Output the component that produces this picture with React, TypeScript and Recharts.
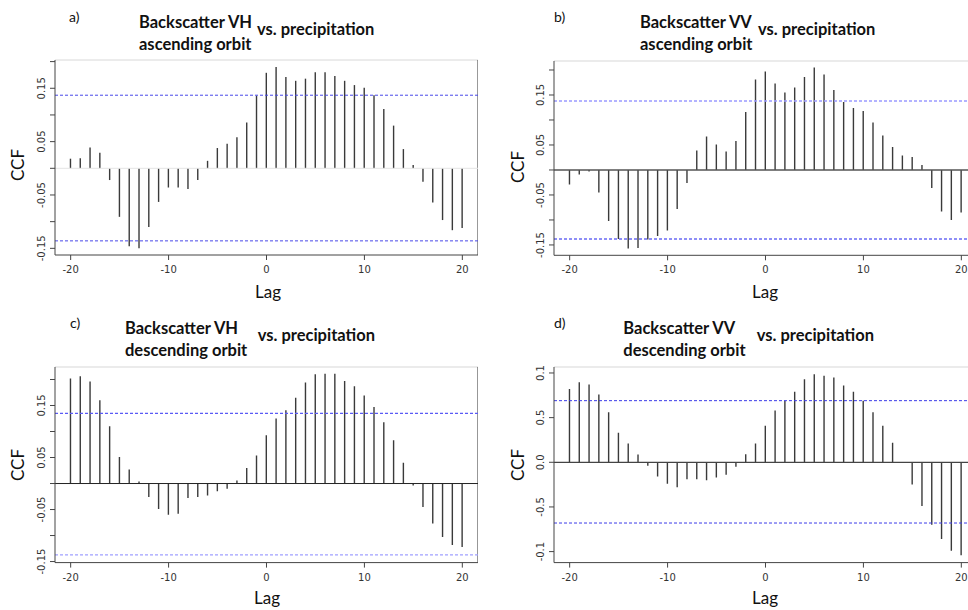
import React from "react";
import { BarChart, Bar, XAxis, YAxis, ReferenceLine } from "recharts";

const lags = [
  -20, -19, -18, -17, -16, -15, -14, -13, -12, -11, -10, -9, -8, -7, -6, -5, -4, -3, -2, -1,
  0, 1, 2, 3, 4, 5, 6, 7, 8, 9, 10, 11, 12, 13, 14, 15, 16, 17, 18, 19, 20,
];

const vhAscending = [
  0.018, 0.019, 0.039, 0.029, -0.022, -0.091, -0.146, -0.15, -0.11, -0.063, -0.036, -0.036, -0.039, -0.022,
  0.014, 0.038, 0.046, 0.058, 0.086, 0.136, 0.179, 0.19, 0.171, 0.164, 0.168, 0.18, 0.18, 0.173, 0.164,
  0.156, 0.151, 0.137, 0.111, 0.08, 0.036, 0.006, -0.025, -0.064, -0.097, -0.116, -0.112,
];

const vvAscending = [
  -0.029, -0.009, -0.003, -0.045, -0.102, -0.138, -0.157, -0.156, -0.139, -0.132, -0.121, -0.078, -0.026,
  0.039, 0.067, 0.051, 0.037, 0.058, 0.116, 0.181, 0.197, 0.173, 0.155, 0.165, 0.186, 0.205, 0.191, 0.16,
  0.136, 0.124, 0.118, 0.095, 0.069, 0.046, 0.029, 0.026, 0.01, -0.036, -0.083, -0.1, -0.085,
];

const vhDescending = [
  0.202, 0.206, 0.196, 0.16, 0.11, 0.051, 0.027, 0.004, -0.026, -0.049, -0.06, -0.058, -0.028, -0.026,
  -0.023, -0.015, -0.01, 0.006, 0.03, 0.054, 0.093, 0.125, 0.141, 0.165, 0.194, 0.21, 0.211, 0.211, 0.197,
  0.187, 0.169, 0.147, 0.118, 0.083, 0.04, -0.004, -0.045, -0.077, -0.103, -0.118, -0.122,
];

const vvDescending = [
  0.082, 0.0896, 0.087, 0.076, 0.056, 0.033, 0.021, 0.0086, -0.004, -0.016, -0.024, -0.028, -0.019, -0.019,
  -0.02, -0.017, -0.014, -0.005, 0.009, 0.021, 0.041, 0.058, 0.069, 0.079, 0.093, 0.0985, 0.097, 0.095,
  0.086, 0.079, 0.069, 0.056, 0.041, 0.022, 0, -0.025, -0.049, -0.07, -0.086, -0.099, -0.104,
];

const xTicks = [-20, -10, 0, 10, 20];
const ccfTicks = [-0.15, -0.1, -0.05, 0, 0.05, 0.1, 0.15, 0.2];
const ccfTickLabels = ["-0.15", "", "-0.05", "", "0.05", "", "0.15", ""];
const vvDescTicks = [-0.1, -0.05, 0, 0.05, 0.1];
const vvDescTickLabels = ["-0.1", "-0.5", "0.0", "0.5", "0.1"];

const FONT = "Lato, 'Open Sans', sans-serif";
const TICK_FONT = "'DejaVu Sans', sans-serif";

interface PanelProps {
  left: number;
  top: number;
  plotHeight: number;
  values: number[];
  domain: [number, number];
  ticks: number[];
  tickLabels: string[];
  conf: [number, number];
  confColors: [string, string];
  confWidth: number;
  zeroColor: string;
  zeroWidth: number;
}

const Y_W = 50;
const X_H = 30;
const PLOT_W = 423;
const PAD_T = 12;

function Panel(p: PanelProps) {
  const data = lags.map((lag, i) => ({ lag, ccf: p.values[i] }));
  const labelFor = (v: number) => {
    const i = p.ticks.findIndex((t) => Math.abs(t - v) < 1e-9);
    return i >= 0 ? p.tickLabels[i] : "";
  };
  const YTick = (props: any) => {
    const { x, y, payload } = props;
    return (
      <text
        x={x - 3}
        y={y}
        transform={`rotate(-90, ${x - 3}, ${y})`}
        textAnchor="middle"
        fontSize={10}
        fill="#333"
        fontFamily={TICK_FONT}
      >
        {labelFor(payload.value)}
      </text>
    );
  };
  return (
    <div style={{ position: "absolute", left: p.left - Y_W, top: p.top - PAD_T }}>
      <BarChart
        width={Y_W + PLOT_W}
        height={p.plotHeight + X_H + PAD_T}
        data={data}
        margin={{ top: PAD_T, right: 0, bottom: 0, left: 0 }}
        barCategoryGap={0}
      >
        <XAxis
          dataKey="lag"
          type="number"
          domain={[-21.6, 21.6]}
          ticks={xTicks}
          height={X_H}
          tickSize={5}
          tickMargin={6}
          allowDataOverflow
          stroke="#444"
          tick={{ fontSize: 10, fill: "#333", fontFamily: TICK_FONT }}
        />
        <YAxis
          type="number"
          domain={p.domain}
          ticks={p.ticks}
          width={Y_W}
          tickSize={5}
          tickMargin={2}
          allowDataOverflow
          stroke="#444"
          tick={YTick}
          interval={0}
        />
        <ReferenceLine y={p.domain[1]} stroke="#d8d8d8" strokeWidth={1} />
        <ReferenceLine x={21.6} stroke="#333" strokeWidth={1} />
        <ReferenceLine y={0} stroke={p.zeroColor} strokeWidth={p.zeroWidth} />
        <ReferenceLine y={p.conf[0]} stroke={p.confColors[0]} strokeDasharray="3 2" strokeWidth={p.confWidth} />
        <ReferenceLine y={p.conf[1]} stroke={p.confColors[1]} strokeDasharray="3 2" strokeWidth={p.confWidth} />
        <Bar dataKey="ccf" barSize={1.4} fill="#3a3a3a" isAnimationActive={false} />
      </BarChart>
    </div>
  );
}

interface TitleProps {
  x: number;
  y: number;
  letterX: number;
  letter: string;
  pol: string;
  orbit: string;
  vsX: number;
  vsDy: number;
  lineGap: number;
}

function Titles(t: TitleProps) {
  return (
    <g fontFamily={FONT} fill="#111">
      <text x={t.letterX} y={t.y - 6} fontSize={14}>{t.letter}</text>
      <text x={t.x} y={t.y} fontSize={16.5} fontWeight={700}>{`Backscatter ${t.pol}`}</text>
      <text x={t.x} y={t.y + t.lineGap} fontSize={16.5} fontWeight={700}>{t.orbit}</text>
      <text x={t.vsX} y={t.y + t.vsDy} fontSize={16.5} fontWeight={700}>vs. precipitation</text>
    </g>
  );
}

export default function App() {
  return (
    <div
      style={{
        position: "absolute",
        left: 0,
        top: 0,
        width: 968,
        height: 610,
        overflow: "hidden",
        background: "#fff",
      }}
    >
      <Panel
        left={55}
        top={60}
        plotHeight={195}
        values={vhAscending}
        domain={[-0.1625, 0.203]}
        ticks={ccfTicks}
        tickLabels={ccfTickLabels}
        conf={[0.137, -0.136]}
        confColors={["#4848e8", "#4848e8"]}
        confWidth={1}
        zeroColor="#e4e4e4"
        zeroWidth={1}
      />
      <Panel
        left={553.7}
        top={60.7}
        plotHeight={194.3}
        values={vvAscending}
        domain={[-0.1707, 0.218]}
        ticks={ccfTicks}
        tickLabels={ccfTickLabels}
        conf={[0.138, -0.138]}
        confColors={["#9a9aff", "#6a6af5"]}
        confWidth={1.5}
        zeroColor="#555"
        zeroWidth={1.5}
      />
      <Panel
        left={55}
        top={366.7}
        plotHeight={195.6}
        values={vhDescending}
        domain={[-0.152, 0.224]}
        ticks={ccfTicks}
        tickLabels={ccfTickLabels}
        conf={[0.135, -0.137]}
        confColors={["#5a5af5", "#a0a0ff"]}
        confWidth={1.3}
        zeroColor="#222"
        zeroWidth={1}
      />
      <Panel
        left={553.7}
        top={366.7}
        plotHeight={195.6}
        values={vvDescending}
        domain={[-0.1123, 0.1067]}
        ticks={vvDescTicks}
        tickLabels={vvDescTickLabels}
        conf={[0.069, -0.068]}
        confColors={["#3a3ae8", "#3a3ae8"]}
        confWidth={1}
        zeroColor="#444"
        zeroWidth={1.3}
      />
      <svg
        width={968}
        height={610}
        style={{ position: "absolute", left: 0, top: 0, pointerEvents: "none" }}
      >
        <Titles x={139} y={27.5} letterX={69} letter="a)" pol="VH" orbit="ascending orbit" vsX={257} vsDy={7.5} lineGap={22} />
        <Titles x={640} y={27.5} letterX={554} letter="b)" pol="VV" orbit="ascending orbit" vsX={758} vsDy={7.5} lineGap={22} />
        <Titles x={125} y={333.5} letterX={70} letter="c)" pol="VH" orbit="descending orbit" vsX={257.7} vsDy={7.5} lineGap={22} />
        <Titles x={623.3} y={333.5} letterX={554} letter="d)" pol="VV" orbit="descending orbit" vsX={756.7} vsDy={7.5} lineGap={22} />
        <g fontFamily={FONT} fontSize={17} fill="#111" textAnchor="middle">
          <text transform="rotate(-90, 24, 165)" x={24} y={165}>CCF</text>
          <text transform="rotate(-90, 524, 167)" x={524} y={167}>CCF</text>
          <text transform="rotate(-90, 24, 465)" x={24} y={465}>CCF</text>
          <text transform="rotate(-90, 524, 465)" x={524} y={465}>CCF</text>
          <text x={268} y={298}>Lag</text>
          <text x={765} y={298}>Lag</text>
          <text x={267} y={604}>Lag</text>
          <text x={765} y={604}>Lag</text>
        </g>
      </svg>
    </div>
  );
}
